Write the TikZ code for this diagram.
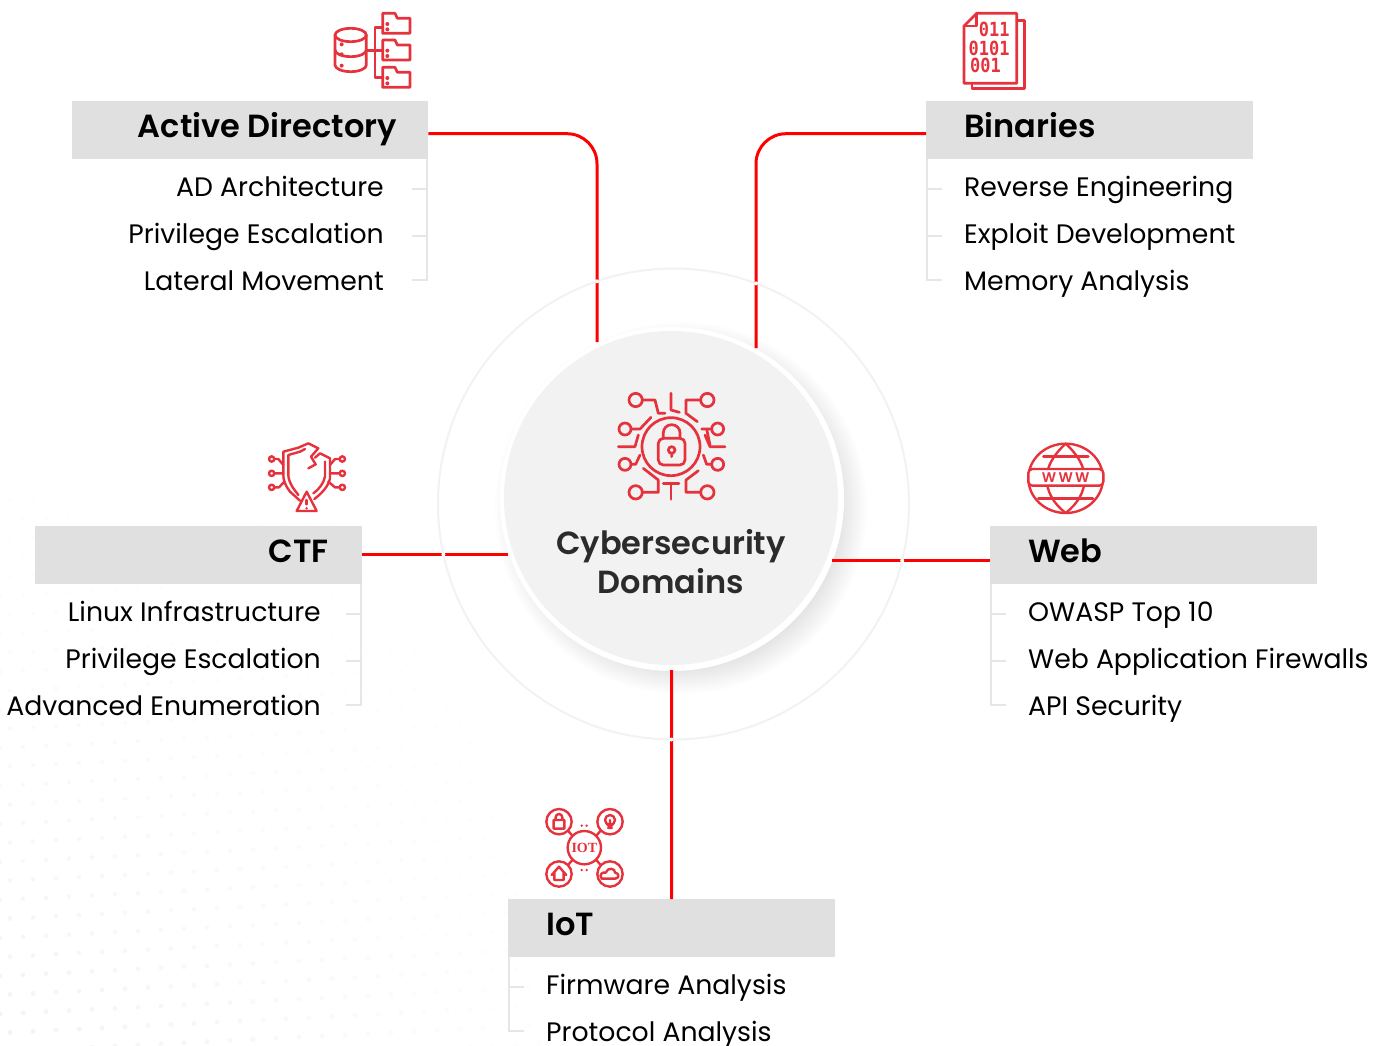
\documentclass[tikz,border=0pt]{standalone}
\usepackage{fontspec}
\setmainfont{Poppins}[BoldFont={Poppins SemiBold}]
\newfontfamily\codefont{DejaVu Sans Mono}
\newfontfamily\iotfont{Liberation Serif}
\definecolor{linkred}{HTML}{FF0000}
\definecolor{iconred}{HTML}{E5323C}
\definecolor{boxgrey}{HTML}{E0E0E0}
\definecolor{treegrey}{HTML}{E6E6E6}
\definecolor{ringgrey}{HTML}{F2F2F2}
\definecolor{hubgrey}{HTML}{F2F2F2}
\definecolor{inkgrey}{HTML}{2B2B2B}
\tikzset{
  domainbox/.style={fill=boxgrey,minimum width=327pt,minimum height=58pt,inner sep=0pt,anchor=north west},
  domaintitle/.style={font=\fontsize{32}{36}\selectfont\bfseries,text=black,inner sep=0pt},
  topicitem/.style={font=\fontsize{26.7}{32}\selectfont,text=black,inner sep=0pt},
  redlink/.style={draw=linkred,line width=3pt,rounded corners=30pt},
  treeline/.style={draw=treegrey,line width=2pt},
  iconline/.style={draw=iconred,line width=2.7pt,line join=round,line cap=round},
  bincode/.style={inner sep=0pt,xscale=.87,text=iconred,font=\fontsize{19.5}{19.5}\codefont\bfseries},
}
\begin{document}
\begin{tikzpicture}[x=1pt,y=-1pt]
  \useasboundingbox (0,0) rectangle (1384,1045);

  \foreach \i in {0,...,24}
    \foreach \j in {0,...,50} {
      \pgfmathsetmacro\dotx{\i*23+mod(\j,2)*10}
      \pgfmathsetmacro\doty{140+\j*19-\dotx*.05}
      \pgfmathsetmacro\dotpct{max(0,4.5*(\doty/1045)*(\doty/1045)*(1-\dotx/620))}
      \fill[black!\dotpct] (\dotx,\doty) circle ({1+1.6*\doty/1045});
    }

  \draw[ringgrey,line width=2pt] (673.5,504) circle (235.5);
  \foreach \shadowrad in {160,162,...,186}
    \fill[black,opacity=.008] (681,508) circle (\shadowrad);
  \fill[white] (672,499) circle (172);
  \node[circle,fill=hubgrey,minimum size=334pt,inner sep=0pt] (hub) at (671,498) {};
  \node[font=\fontsize{32}{39}\selectfont\bfseries,text=inkgrey,align=center,inner sep=0pt] (hubtext) at (671,562)
    {Cybersecurity\\Domains};

  \coordinate (hubad) at (597,342);
  \coordinate (hubbin) at (756,348);
  \coordinate (hubctf) at (508,554.5);
  \coordinate (hubweb) at (832,560.5);
  \coordinate (hubiot) at (671.5,670);

  \node[domainbox,minimum width=356pt] (adbox)  at (72,101)  {};
  \node[domainbox]                     (binbox) at (926,101) {};
  \node[domainbox]                     (ctfbox) at (35,526)  {};
  \node[domainbox]                     (webbox) at (990,526) {};
  \node[domainbox]                     (iotbox) at (508,899) {};

  \node[domaintitle,anchor=base east] (adtitle)  at (397,137)  {Active Directory};
  \node[domaintitle,anchor=base west] (bintitle) at (964,137)  {Binaries};
  \node[domaintitle,anchor=base east] (ctftitle) at (329,562)  {CTF};
  \node[domaintitle,anchor=base west] (webtitle) at (1028,562) {Web};
  \node[domaintitle,anchor=base west] (iottitle) at (546,935)  {IoT};

  \node[topicitem,anchor=base east] (ada) at (384,196) {AD Architecture};
  \node[topicitem,anchor=base east] (adb) at ([yshift=-47pt]ada.base east) {Privilege Escalation};
  \node[topicitem,anchor=base east] (adc) at ([yshift=-47pt]adb.base east) {Lateral Movement};
  \node[topicitem,anchor=base west] (bina) at (964,196) {Reverse Engineering};
  \node[topicitem,anchor=base west] (binb) at ([yshift=-47pt]bina.base west) {Exploit Development};
  \node[topicitem,anchor=base west] (binc) at ([yshift=-47pt]binb.base west) {Memory Analysis};
  \node[topicitem,anchor=base east] (ctfa) at (321,621) {Linux Infrastructure};
  \node[topicitem,anchor=base east] (ctfb) at ([yshift=-47pt]ctfa.base east) {Privilege Escalation};
  \node[topicitem,anchor=base east] (ctfc) at ([yshift=-47pt]ctfb.base east) {Advanced Enumeration};
  \node[topicitem,anchor=base west] (weba) at (1028,621) {OWASP Top 10};
  \node[topicitem,anchor=base west] (webb) at ([yshift=-47pt]weba.base west) {Web Application Firewalls};
  \node[topicitem,anchor=base west] (webc) at ([yshift=-47pt]webb.base west) {API Security};
  \node[topicitem,anchor=base west] (iota) at (546,994) {Firmware Analysis};
  \node[topicitem,anchor=base west] (iotb) at ([yshift=-47pt]iota.base west) {Protocol Analysis};

  \coordinate (adtreea) at (412,189);
  \coordinate (adtreeb) at (412,236);
  \coordinate (adtreec) at (412,280);
  \coordinate (bintreea) at (942,189);
  \coordinate (bintreeb) at (942,236);
  \coordinate (bintreec) at (942,280);
  \coordinate (ctftreea) at (346,614);
  \coordinate (ctftreeb) at (346,661);
  \coordinate (ctftreec) at (346,705);
  \coordinate (webtreea) at (1006,614);
  \coordinate (webtreeb) at (1006,661);
  \coordinate (webtreec) at (1006,705);
  \coordinate (iottreea) at (524,987);
  \coordinate (iottreeb) at (524,1031);

  \draw[treeline] ([xshift=-1pt]adbox.south east) |- (adtreec)
                  ([xshift=-1pt]adbox.south east |- adtreea) -- (adtreea)
                  ([xshift=-1pt]adbox.south east |- adtreeb) -- (adtreeb);
  \draw[treeline] ([xshift=1pt]binbox.south west) |- (bintreec)
                  ([xshift=1pt]binbox.south west |- bintreea) -- (bintreea)
                  ([xshift=1pt]binbox.south west |- bintreeb) -- (bintreeb);
  \draw[treeline] ([xshift=-1pt]ctfbox.south east) |- (ctftreec)
                  ([xshift=-1pt]ctfbox.south east |- ctftreea) -- (ctftreea)
                  ([xshift=-1pt]ctfbox.south east |- ctftreeb) -- (ctftreeb);
  \draw[treeline] ([xshift=1pt]webbox.south west) |- (webtreec)
                  ([xshift=1pt]webbox.south west |- webtreea) -- (webtreea)
                  ([xshift=1pt]webbox.south west |- webtreeb) -- (webtreeb);
  \draw[treeline] ([xshift=1pt]iotbox.south west) |- (iottreeb)
                  ([xshift=1pt]iotbox.south west |- iottreea) -- (iottreea);

  \draw[redlink] ([yshift=-3.5pt]adbox.east) -| (hubad);
  \draw[redlink] ([yshift=-3.5pt]binbox.west) -| (hubbin);
  \draw[redlink] (ctfbox.east |- hubctf) -- (hubctf);
  \draw[redlink] (webbox.west |- hubweb) -- (hubweb);
  \draw[redlink] (iotbox.north) -- (hubiot);

  \foreach \gapx/\gapy in {597/281.3,756/283.4,443.4/554.5,902.2/560.5,671.5/739.5}
    \fill[white] (\gapx,\gapy) circle (2);

  \begin{scope}[shift={(320,0)},scale=1/3,iconline]
    \draw (92,105) ellipse (47 and 20);
    \draw (45,105) -- (45,195) arc[start angle=180,end angle=0,x radius=47,y radius=20] -- (139,105);
    \draw (45,150) arc[start angle=180,end angle=0,x radius=47,y radius=20];
    \foreach \dy in {133,163,197} \fill[iconred,draw=none] (65,\dy) circle (6);
    \draw (140,152) -- (165,152);
    \draw (188,82) -- (165,82) -- (165,232) -- (188,232) (165,152) -- (188,152);
    \foreach \fy in {0,80,162} {
      \draw (188,40+\fy) -- (225,40+\fy) -- (232,55+\fy) -- (270,55+\fy) -- (270,100+\fy) -- (188,100+\fy) -- cycle;
      \fill[iconred,draw=none] (202,72+\fy) circle (6) (202,88+\fy) circle (6);
    }
  \end{scope}

  \begin{scope}[shift={(950,0)},scale=1/3,iconline]
    \draw (80,40) -- (200,40) -- (200,250) -- (42,250) -- (42,78) -- cycle;
    \draw (80,40) -- (80,78) -- (42,78);
    \draw (200,62) -- (224,62) -- (224,265) -- (66,265) -- (66,250);
    \node[bincode,anchor=base east] (bincodea) at (182,110) {011};
    \node[bincode,anchor=base east] (bincodeb) at (182,165) {0101};
    \node[bincode,anchor=base west] (bincodec) at (57,218) {001};
  \end{scope}

  \begin{scope}[shift={(600,380)},scale=1/3,iconline]
    \draw (213,200) circle (87);
    \draw[rounded corners=5pt] (175,175) rectangle (255,255);
    \draw (190,175) -- (190,158) arc[start angle=180,end angle=360,x radius=25,y radius=24] -- (240,175);
    \draw (215,210) circle (10) (215,220) -- (215,230);
    \foreach \nx/\ny/\nr in {107/60/20,322/60/20,75/147/18,353/147/18,75/253/18,353/253/18,107/337/20,322/337/20}
      \draw (\nx,\ny) circle (\nr);
    \draw (127,60) -- (165,60) -- (175,100) -- (195,100);
    \draw (302,60) -- (258,60) -- (258,100) -- (292,125);
    \draw (213,40) -- (213,90) -- (238,97);
    \draw (93,147) -- (120,147) -- (153,112);
    \draw (335,147) -- (305,147) (320,147) -- (330,195);
    \draw (375,200) -- (330,200) -- (315,165);
    \draw (55,200) -- (105,200) -- (115,165);
    \draw (93,253) -- (107,253) -- (120,225);
    \draw (335,253) -- (320,253) -- (310,225);
    \draw (127,337) -- (175,337) -- (175,300) -- (130,265);
    \draw (302,337) -- (258,337) -- (258,300) -- (295,272);
    \draw (213,358) -- (213,310) (190,310) -- (237,310);
  \end{scope}

  \begin{scope}[shift={(255,435)},scale=1/3,iconline,line width=2.4pt]
    \draw (135,197) -- (105,170) .. controls (90,150) and (85,135) .. (85,120) -- (85,50) -- (130,38) -- (160,25) -- (190,40) -- (168,65) -- (182,88) -- (160,100);
    \draw (195,55) -- (180,68) (195,55) -- (225,70) -- (225,130) .. controls (220,155) and (200,175) .. (178,192);
    \draw (130,180) -- (115,160) .. controls (105,145) and (100,130) .. (100,120) -- (100,60) -- (135,50) -- (150,42);
    \draw (210,80) -- (210,125) .. controls (205,145) and (195,160) .. (175,175);
    \draw (155,170) -- (125,228) -- (185,228) -- cycle;
    \draw (155,195) -- (155,208);
    \fill[iconred,draw=none] (155,220) circle (4);
    \foreach \nx in {50,262} \foreach \ny in {72,115,157} \draw (\nx,\ny) circle (8);
    \draw (58,72) -- (70,72) -- (85,90) (58,115) -- (85,115) (58,157) -- (72,157) -- (88,140);
    \draw (254,72) -- (240,72) -- (225,90) (254,115) -- (225,115) (254,157) -- (240,157) -- (220,140);
  \end{scope}

  \begin{scope}[shift={(1015,435)},scale=1/3,iconline,line width=2.4pt]
    \draw (152,130) ellipse (112 and 104);
    \draw (152,26) .. controls (115,60) and (95,95) .. (95,130) .. controls (95,170) and (115,205) .. (152,234);
    \draw (152,26) .. controls (189,60) and (209,95) .. (209,130) .. controls (209,170) and (189,205) .. (152,234);
    \draw (85,65) -- (220,65) (70,190) -- (234,190);
    \draw[fill=white,rounded corners=4pt] (40,102) rectangle (265,152);
    \node[inner sep=0pt,text=iconred,font=\fontsize{14}{14}\selectfont\bfseries] (wwwtext) at (152,127) {W\,W\,W};
  \end{scope}

  \begin{scope}[shift={(535,800)},scale=1/3,iconline,line width=2.4pt]
    \draw (148,143) circle (50);
    \foreach \nx/\ny in {72/65,225/65,72/222,225/222} \draw (\nx,\ny) circle (38);
    \draw (100,93) -- (112,107) (196,93) -- (184,107) (100,194) -- (112,180) (196,194) -- (184,180);
    \foreach \nx/\ny in {140/77,155/77,140/210,155/210} \fill[iconred,draw=none] (\nx,\ny) circle (4);
    \node[inner sep=0pt,text=iconred,font=\fontsize{14}{14}\iotfont\bfseries] (iottext) at (148,143) {IOT};
    \draw (56,60) rectangle (88,86) (62,60) -- (62,52) arc[start angle=180,end angle=360,x radius=10,y radius=10] -- (82,60);
    \draw (225,60) circle (15) (218,76) -- (232,76) (219,84) -- (231,84) (225,60) -- (225,76);
    \draw (50,225) -- (72,200) -- (94,225) (58,218) -- (58,240) -- (86,240) -- (86,218);
    \draw (200,236) .. controls (190,222) and (205,215) .. (212,218) .. controls (218,200) and (242,205) .. (240,218) .. controls (252,218) and (255,236) .. (240,236) -- cycle;
  \end{scope}
\end{tikzpicture}
\end{document}
